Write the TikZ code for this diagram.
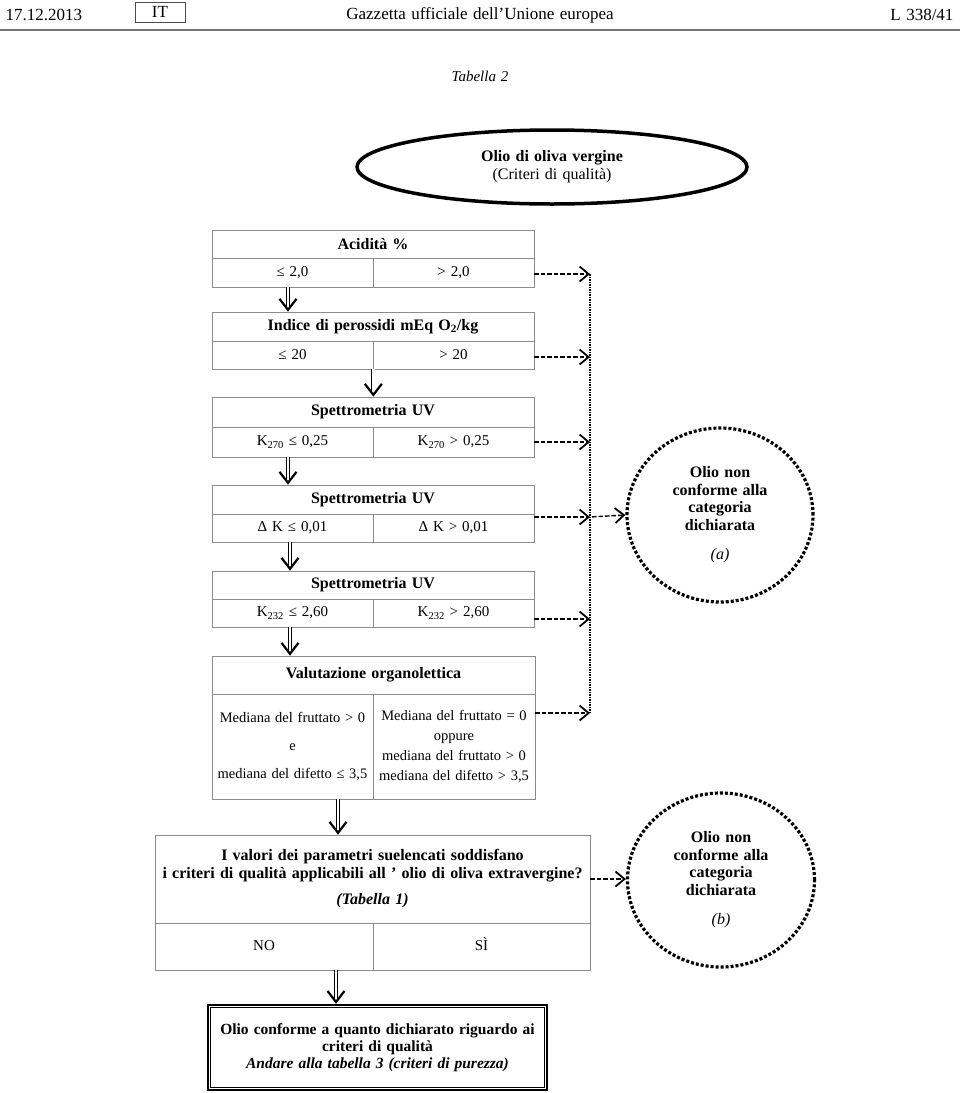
\documentclass[tikz,border=0pt]{standalone}
\usepackage{fontspec}
\setmainfont{Liberation Serif}[WordSpace=1.3]
\usetikzlibrary{shapes.geometric,arrows.meta,calc}
\newcommand\myreg{\fontsize{15}{17}\selectfont}
\newcommand\mybold{\fontsize{16}{17.5}\selectfont\bfseries}
\newcommand\mysmall{\fontsize{14.5}{16}\selectfont}
\newcommand\myhead{\fontsize{17}{19}\selectfont}
\tikzset{
  cell/.style={draw=black!45, line width=0.7pt, inner sep=0pt, font=\myreg, align=center},
  hcell/.style={cell, font=\mybold},
  dbl/.style={draw=black, line width=0.8pt, double=white, double distance=2.4pt,
     -{Straight Barb[length=11pt,width=17pt,line width=2.2pt]}},
  dsh/.style={line width=1.4pt, dash pattern=on 4.5pt off 2pt,
     -{Straight Barb[length=9pt,width=15pt,line width=1.8pt]}},
  bus/.style={line width=1.2pt, dash pattern=on 1.5pt off 1pt},
  dotcirc/.style={ellipse, draw, line width=3.2pt, dash pattern=on 3pt off 2pt,
     inner sep=0pt, align=center, font=\mybold},
}
\begin{document}
\begin{tikzpicture}[x=1pt,y=-1pt]
\useasboundingbox (0,0) rectangle (960,1093);
% header
\node[anchor=west, font=\myhead] (date) at (2,15) {17.12.2013};
\node[draw=black!70, line width=0.8pt, minimum width=50, minimum height=20, inner sep=0pt, font=\myhead] (lang) at (160,12) {IT};
\node[font=\myhead] (title) at (480,15) {Gazzetta ufficiale dell'Unione europea};
\node[anchor=east, font=\myhead] (page) at (957,15) {L 338/41};
\draw[black!55, line width=2.5pt] (0,30) -- (960,30);
\node[font=\fontsize{15}{17}\selectfont\itshape] (tab) at (480,76) {Tabella 2};
% top ellipse
\node[ellipse, draw, line width=3.5pt, minimum width=390, minimum height=74, inner sep=0pt, align=center, font=\fontsize{16}{18}\selectfont] (top) at (552,167)
  {\bfseries Olio di oliva vergine\\(Criteri di qualità)};
% box 1
\node[hcell, minimum width=322, minimum height=28] (a1h) at (373,244) {Acidità \%};
\node[cell, minimum width=161, minimum height=29] (a1l) at (292.5,272.5) {≤ 2,0};
\node[cell, minimum width=161, minimum height=29] (a1r) at (453.5,272.5) {> 2,0};
% box 2
\node[hcell, minimum width=322, minimum height=29] (a2h) at (373,326.5) {Indice di perossidi mEq O\textsubscript{2}/kg};
\node[cell, minimum width=161, minimum height=28] (a2l) at (292.5,355) {≤ 20};
\node[cell, minimum width=161, minimum height=28] (a2r) at (453.5,355) {> 20};
% box 3
\node[hcell, minimum width=322, minimum height=30] (a3h) at (373,412) {Spettrometria UV};
\node[cell, minimum width=161, minimum height=30] (a3l) at (292.5,442) {K\textsubscript{270} ≤ 0,25};
\node[cell, minimum width=161, minimum height=30] (a3r) at (453.5,442) {K\textsubscript{270} > 0,25};
% box 4
\node[hcell, minimum width=322, minimum height=29] (a4h) at (373,499.5) {Spettrometria UV};
\node[cell, minimum width=161, minimum height=28] (a4l) at (292.5,528) {Δ K ≤ 0,01};
\node[cell, minimum width=161, minimum height=28] (a4r) at (453.5,528) {Δ K > 0,01};
% box 5
\node[hcell, minimum width=322, minimum height=28] (a5h) at (373,585) {Spettrometria UV};
\node[cell, minimum width=161, minimum height=28] (a5l) at (292.5,613) {K\textsubscript{232} ≤ 2,60};
\node[cell, minimum width=161, minimum height=28] (a5r) at (453.5,613) {K\textsubscript{232} > 2,60};
% box 6
\node[hcell, minimum width=323, minimum height=38] (a6h) at (373.5,675) {Valutazione organolettica};
\node[cell, font=\mysmall, minimum width=161, minimum height=105] (a6l) at (292.5,746.5)
  {Mediana del fruttato > 0\\[12pt]e\\[12pt]mediana del difetto ≤ 3,5};
\node[cell, font=\mysmall, minimum width=162, minimum height=105] (a6r) at (454,746.5)
  {Mediana del fruttato = 0\\[4pt]oppure\\[4pt]mediana del fruttato > 0\\[4pt]mediana del difetto > 3,5};
% box 7
\node[hcell, minimum width=435, minimum height=88] (a7h) at (372.5,879)
  {I valori dei parametri suelencati soddisfano\\i criteri di qualità applicabili all ’ olio di oliva extravergine?\\[9pt]\textit{(Tabella 1)}};
\node[cell, minimum width=218, minimum height=47, text height=11pt, text depth=3pt] (a7l) at (264,946.5) {NO};
\node[cell, minimum width=217, minimum height=47, text height=11pt, text depth=3pt] (a7r) at (481.5,946.5) {SÌ};
% box 8
\node[draw, line width=2.5pt, minimum width=339, minimum height=85, inner sep=0pt, align=center, font=\fontsize{15.5}{17}\selectfont\bfseries] (a8) at (377.5,1047.5)
  {Olio conforme a quanto dichiarato riguardo ai\\criteri di qualità\\\textit{Andare alla tabella 3 (criteri di purezza)}};
\draw[line width=0.8pt] ([shift={(4,4)}]a8.north west) rectangle ([shift={(-4,-4)}]a8.south east);
% circles
\node[dotcirc, minimum width=186, minimum height=174] (ca) at (720,515)
  {Olio non\\conforme alla\\categoria\\dichiarata\\[12pt]\normalfont\itshape (a)};
\node[dotcirc, minimum width=187, minimum height=174] (cb) at (721,880)
  {Olio non\\conforme alla\\categoria\\dichiarata\\[12pt]\normalfont\itshape (b)};
% bus
\coordinate (b1) at (590,274);
\coordinate (b2) at (590,357);
\coordinate (b3) at (590,442);
\coordinate (b4) at (590,517);
\coordinate (b5) at (590,619);
\coordinate (b6) at (590,713);
\draw[bus] (b1) -- (b6);
\draw[dsh] ([yshift=-1.5pt]a1r.east) -- (b1);
\draw[dsh] ([yshift=-2pt]a2r.east) -- (b2);
\draw[dsh] (a3r.east) -- (b3);
\draw[dsh] ([yshift=11pt]a4r.east) -- (b4);
\draw[dsh] ([yshift=-6pt]a5r.east) -- (b5);
\draw[dsh] ([yshift=33.5pt]a6r.east) -- (b6);
\draw[dsh, shorten <=2pt] (b4) -- (ca.west);
\draw[dsh] (a7h.east) -- (a7h.east -| cb.west);
% double arrows
\draw[dbl] ([xshift=-4.5pt]a1l.south) -- ([xshift=-4.5pt]a1l.south |- a2h.north);
\draw[dbl] (a2l.south east) -- (a2l.south east |- a3h.north);
\draw[dbl] ([xshift=-4.5pt]a3l.south) -- ([xshift=-4.5pt]a3l.south |- a4h.north);
\draw[dbl] ([xshift=-2.5pt]a4l.south) -- ([xshift=-2.5pt]a4l.south |- a5h.north);
\draw[dbl] ([xshift=-2.5pt]a5l.south) -- ([xshift=-2.5pt]a5l.south |- a6h.north);
\draw[dbl] ([xshift=45.5pt]a6l.south) -- ([xshift=45.5pt]a6l.south |- a7h.north);
\draw[dbl] ([xshift=72pt]a7l.south) -- ([xshift=72pt]a7l.south |- a8.north);
\end{tikzpicture}
\end{document}
